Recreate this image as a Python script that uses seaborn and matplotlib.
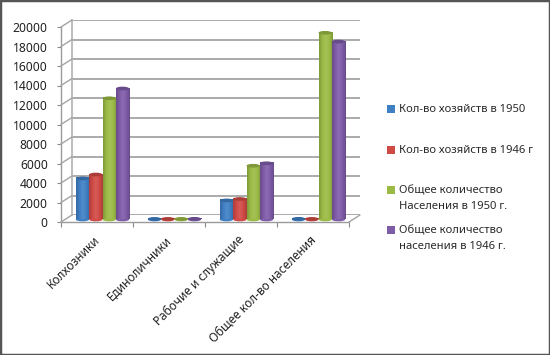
import numpy as np
import pandas as pd
import matplotlib
matplotlib.use("Agg")
import matplotlib.pyplot as plt
from matplotlib.patches import ConnectionPatch, Ellipse, Rectangle
from matplotlib.colors import LinearSegmentedColormap
from matplotlib.transforms import ScaledTranslation
import seaborn as sns

categories = ["Колхозники", "Единоличники", "Рабочие и служащие", "Общее кол-во населения"]
series_names = ["Кол-во хозяйств в 1950", "Кол-во хозяйств в 1946 г",
                "Общее количество\nНаселения в 1950 г.", "Общее количество\nнаселения в 1946 г."]
hh_1950 = [4200, 60, 1950, 70]
hh_1946 = [4600, 60, 2100, 60]
pop_1950 = [12400, 60, 5500, 19100]
pop_1946 = [13400, 70, 5750, 18200]
colors = ["#3f7fc4", "#d04a45", "#9bbb45", "#7f5ca8"]
yticks = [0, 2000, 4000, 6000, 8000, 10000, 12000, 14000, 16000, 18000, 20000]

W, H = 550, 355
sns.set_theme(style="white")
plt.rcParams["font.family"] = ["Noto Sans", "DejaVu Sans"]

df = pd.DataFrame({"cat": categories * 4,
                   "series": np.repeat(series_names, 4),
                   "value": hh_1950 + hh_1946 + pop_1950 + pop_1946})

fig = plt.figure(figsize=(W / 100, H / 100), dpi=100, facecolor="white")


def box(left, bottom_px, right, top_px):
    return [left / W, 1 - bottom_px / H, (right - left) / W, (bottom_px - top_px) / H]


wall = fig.add_axes(box(72, 215, 360, 20))
front = fig.add_axes(box(61, 222, 349, 27))
bars = fig.add_axes(box(66.5, 219.5, 354.5, 24))

n = len(categories)
for a in (wall, front, bars):
    a.set_xlim(-0.5, n - 0.5)
    a.set_ylim(0, 20000)
    a.patch.set_alpha(0)

# back wall with gridlines
wall.set_yticks(yticks)
wall.set_xticks([])
wall.set_yticklabels([])
wall.grid(axis="y", color="#9c9c9c", lw=1.2)
for s in wall.spines.values():
    s.set_visible(False)
wall.spines["left"].set_visible(True)
wall.spines["left"].set_color("#b5b5b5")
wall.tick_params(left=False)

# front axis
front.set_yticks(yticks)
front.set_xticks(np.arange(n + 1) - 0.5, minor=True)
front.set_xticks(np.arange(n))
front.set_xticklabels(categories, rotation=45, ha="right", rotation_mode="anchor",
                      fontsize=8.5, color="#222222")
front.tick_params(axis="x", which="major", length=0, pad=8)
front.tick_params(axis="x", which="minor", length=3.5, width=0.8, color="#8a8a8a", bottom=True)
front.tick_params(axis="y", labelsize=8.7, labelcolor="#222222", length=3, width=0.8,
                  color="#8a8a8a", left=True, pad=6.5)
for label in front.get_xticklabels():
    label.set_transform(label.get_transform() + ScaledTranslation(-4 / 100, 0, fig.dpi_scale_trans))
for k, s in front.spines.items():
    s.set_visible(k in ("left", "bottom"))
    s.set_color("#9a9a9a")
    s.set_linewidth(1.0)

# side wall and floor connectors
for t in yticks:
    fig.add_artist(ConnectionPatch((-0.5, t), (-0.5, t), coordsA=front.transData,
                                   coordsB=wall.transData, color="#a3a3a3", lw=1))
fig.add_artist(ConnectionPatch((n - 0.5, 0), (n - 0.5, 0), coordsA=front.transData,
                               coordsB=wall.transData, color="#a3a3a3", lw=1))

# bars
sns.barplot(data=df, x="cat", y="value", hue="series", order=categories,
            hue_order=series_names, palette=colors, width=0.74, gap=0,
            saturation=1, ax=bars, legend=False)
bars.set_xlim(-0.5, n - 0.5)
bars.set_ylim(0, 20000)
bars.axis("off")

ell_h = 380
shade = np.linspace(0, 1, 64).reshape(1, -1)
for patch, col in zip(list(bars.patches), np.repeat(colors, n)):
    x, w, h = patch.get_x(), patch.get_width(), patch.get_height()
    rgb = matplotlib.colors.to_rgb(col)
    dark = tuple(0.82 * c for c in rgb)
    light = tuple(min(1, 0.9 * c + 0.1) for c in rgb)
    cm = LinearSegmentedColormap.from_list("c", [dark, col, light, col, dark])
    bars.imshow(shade, cmap=cm, aspect="auto", extent=[x, x + w, 0, h], zorder=3)
    bars.add_patch(Ellipse((x + w / 2, 0), w, ell_h, facecolor=col, edgecolor="none",
                           zorder=2.9, clip_on=False))
    bars.add_patch(Ellipse((x + w / 2, h), w, ell_h, facecolor=dark, edgecolor="none",
                           zorder=3.1, clip_on=False))
    patch.set_visible(False)
bars.set_xlim(-0.5, n - 0.5)
bars.set_ylim(0, 20000)

# legend: markers line up with the first text line of each entry
legend_first_line_px = [109, 150, 190, 230]
for name, col, y_px in zip(series_names, colors, legend_first_line_px):
    fig.add_artist(Rectangle((387 / W, 1 - (y_px + 4) / H), 8 / W, 8 / H,
                             transform=fig.transFigure, facecolor=col, edgecolor="none"))
    fig.text(399 / W, 1 - (y_px - 5) / H, name, fontsize=8.1, color="#2a2a2a",
             va="top", ha="left", linespacing=1.65)

# picture frame
fig.add_artist(Rectangle((0, 0), 1, 1, transform=fig.transFigure, fill=False,
                         edgecolor="#555555", lw=2.5))

fig.savefig("out.png", dpi=100)
